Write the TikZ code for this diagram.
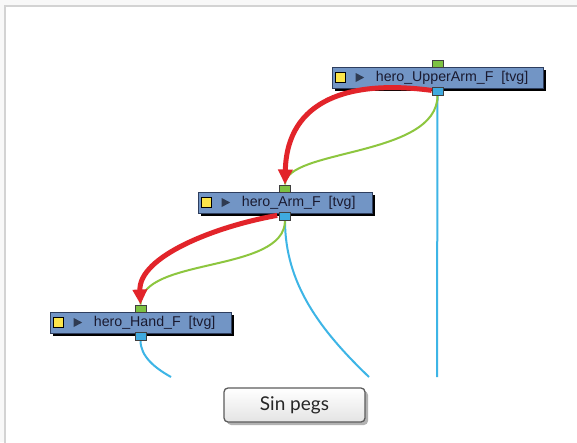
\documentclass[tikz,border=0pt]{standalone}
\usepackage{fontspec}
\setmainfont{Liberation Sans}
\newfontfamily\btnfont{Lato}
\usetikzlibrary{arrows.meta,shadows,calc}
\definecolor{bggray}{HTML}{F8F8F8}
\definecolor{framegray}{HTML}{D3D3D3}
\definecolor{nodefill}{HTML}{7295C5}
\definecolor{nodeborder}{HTML}{2E3E5E}
\definecolor{txtcol}{HTML}{1A1A30}
\definecolor{portgreen}{HTML}{7DC242}
\definecolor{portblue}{HTML}{3FAAE0}
\definecolor{linkblue}{HTML}{3DB5E6}
\definecolor{linkgreen}{HTML}{8DC63F}
\definecolor{arrowred}{HTML}{E2242A}
\definecolor{yellowsq}{HTML}{FCE54A}
\definecolor{tricol}{HTML}{2F3B52}
\definecolor{btnborder}{HTML}{5C5C5C}
\definecolor{btnbottom}{HTML}{E4E4E4}
\begin{document}
\begin{tikzpicture}[x=1pt,y=-1pt,
  layerbox/.style={rectangle, draw=nodeborder, line width=0.6pt, fill=nodefill,
    minimum height=21pt, inner sep=0pt,
    general shadow={fill=black, shadow xshift=2.5pt, shadow yshift=-2.5pt}},
  yelsq/.style={rectangle, draw=black, line width=0.8pt, fill=yellowsq,
    minimum width=10pt, minimum height=10pt, inner sep=0pt},
  lbl/.style={anchor=west, inner sep=0pt, text=txtcol, font=\fontsize{14.2}{16}\selectfont},
  gport/.style={rectangle, draw=black!75, line width=0.7pt, fill=portgreen,
    minimum width=11pt, minimum height=7.5pt, inner sep=0pt},
  bport/.style={rectangle, draw=black!75, line width=0.7pt, fill=portblue,
    minimum width=11pt, minimum height=7.5pt, inner sep=0pt},
  bluelink/.style={draw=linkblue, line width=2pt},
  greenlink/.style={draw=linkgreen, line width=2pt},
  redarrow/.style={draw=arrowred, line width=5pt, -{Triangle[length=15pt,width=14pt]}},
  btn/.style={rectangle, rounded corners=4pt, draw=btnborder, line width=1.3pt,
    top color=white, bottom color=btnbottom, minimum width=141pt, minimum height=34pt,
    text=black!85, font=\btnfont\fontsize{19}{22}\selectfont,
    drop shadow={shadow xshift=3pt, shadow yshift=-3pt, fill=black, opacity=0.3}}
]
\useasboundingbox (0,0) rectangle (577,442);
\fill[bggray] (0,0) rectangle (577,442);
\filldraw[fill=white, draw=framegray, line width=2pt] (5,6) rectangle (600,470);

% layer boxes
\node[layerbox, minimum width=211pt] (b1) at (437.5,77.5) {};
\node[layerbox, minimum width=174pt] (b2) at (285,202.5) {};
\node[layerbox, minimum width=181pt] (b3) at (140.5,322.5) {};

% ports
\node[gport, anchor=south] (pg1) at ($(b1.north)+(0,1)$) {};
\node[bport, anchor=north] (pb1) at ($(b1.south)+(0,-1)$) {};
\node[gport, anchor=south] (pg2) at ($(b2.north)+(0,1)$) {};
\node[bport, anchor=north] (pb2) at ($(b2.south)+(0,-1)$) {};
\node[gport, anchor=south] (pg3) at ($(b3.north)+(0,1)$) {};
\node[bport, anchor=north] (pb3) at ($(b3.south)+(0,-1)$) {};

% links end points
\coordinate (e1) at (437,377);
\coordinate (e2) at (369,377);
\coordinate (e3) at (171,377);

% links
\draw[bluelink] (pb1.south) -- (e1);
\draw[bluelink] (pb2.south) .. controls +(0,63) and +(-49,-47) .. (e2);
\draw[bluelink] (pb3.south) .. controls +(0,16) and +(-16,-9) .. (e3);
\draw[greenlink] (pb1.south) .. controls +(0,62) and +(0,-36) .. (pg2.north);
\draw[greenlink] (pb2.south) .. controls +(0,53) and +(0,-48) .. (pg3.north);

% box decorations
\foreach \b/\t in {b1/{hero\_UpperArm\_F\ \ [tvg]}, b2/{hero\_Arm\_F\ \ [tvg]}, b3/{hero\_Hand\_F\ \ [tvg]}}{
  \node[yelsq] (y\b) at ($(\b.west)+(9,0)$) {};
  \coordinate (r\b) at ($(\b.west)+(28,0)$);
  \fill[tricol] ($(r\b)+(-4,-4.5)$) -- ($(r\b)+(4.5,0)$) -- ($(r\b)+(-4,4.5)$) -- cycle;
  \node[lbl] (t\b) at ($(\b.west)+(44,0.5)$) {\t};
}

% ports on top of links
\node[gport] at (pg1) {};
\node[bport] at (pb1) {};
\node[gport] at (pg2) {};
\node[bport] at (pb2) {};
\node[gport] at (pg3) {};
\node[bport] at (pb3) {};

% red arrows
\draw[redarrow] ($(pb1.west)+(0,-1)$) .. controls +(-82,-11) and +(2,-85) .. (pg2.north);
\draw[redarrow] ($(pb2.west)+(-2,-1)$) .. controls +(-62,11) and +(-2,-48) .. (pg3.north);

% button
\node[btn] (sp) at (294.5,405) {Sin pegs};
\end{tikzpicture}
\end{document}
